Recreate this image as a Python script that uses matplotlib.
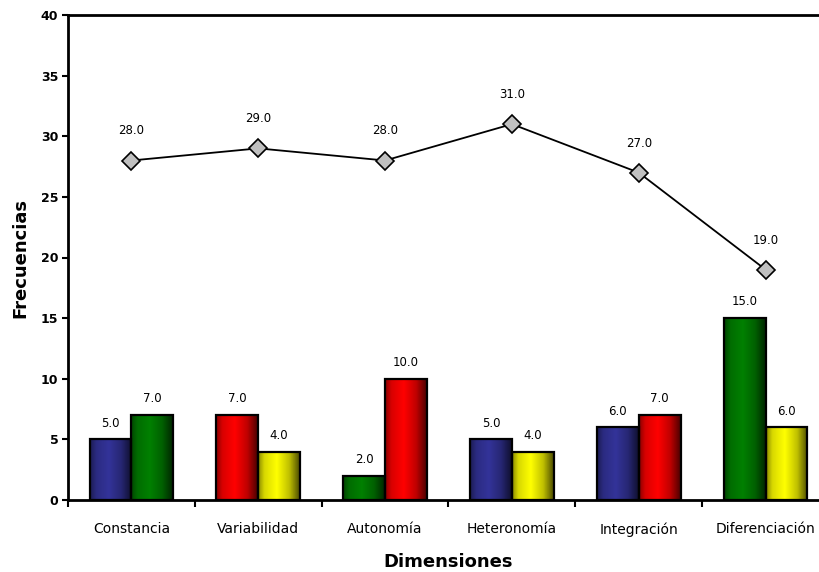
import numpy as np
import matplotlib.pyplot as plt
from matplotlib.colors import to_rgb

# Datos por dimensión
dimensiones = ['Constancia', 'Variabilidad', 'Autonomía', 'Heteronomía', 'Integración', 'Diferenciación']
barra_izq = [5.0, 7.0, 2.0, 5.0, 6.0, 15.0]
barra_der = [7.0, 4.0, 10.0, 4.0, 7.0, 6.0]
color_izq = ['#333399', '#FF0000', '#008000', '#333399', '#333399', '#008000']
color_der = ['#008000', '#FFFF00', '#FF0000', '#FFFF00', '#FF0000', '#FFFF00']
totales = [28.0, 29.0, 28.0, 31.0, 27.0, 19.0]

plt.rcParams['font.family'] = ['DejaVu Sans']

fig = plt.figure(figsize=(8.2, 5.72), dpi=100)
ax = fig.add_axes([68 / 820, 72 / 572, 761 / 820, 485 / 572])

x = np.arange(len(dimensiones))
ancho = 0.33

# sombreado horizontal tipo Excel: oscuro en bordes, claro hacia el centro-izquierda
t = np.linspace(0, 1, 64)
brillo = np.interp(t, [0, 0.15, 0.45, 0.75, 1.0], [0.55, 0.85, 1.0, 0.75, 0.3])


def barra(xc, h, color):
    rect = ax.bar(xc, h, ancho, color='none', edgecolor='black', linewidth=1.6, zorder=3)[0]
    rgb = np.array(to_rgb(color))
    img = (brillo[:, None] * rgb[None, :])[None, :, :]
    im = ax.imshow(img, extent=[xc - ancho / 2, xc + ancho / 2, 0, h], aspect='auto',
                   interpolation='bilinear', zorder=2)
    im.set_clip_path(rect)
    ax.text(xc, h + 0.8, f'{h:.1f}', ha='center', va='bottom', fontsize=8.5, zorder=5)


for i in range(len(dimensiones)):
    barra(x[i] - ancho / 2, barra_izq[i], color_izq[i])
    barra(x[i] + ancho / 2, barra_der[i], color_der[i])

ax.plot(x, totales, color='black', linewidth=1.3, marker='D', markersize=9,
        markerfacecolor='#C0C0C0', markeredgecolor='black', markeredgewidth=1.2, zorder=6)
for xi, v in zip(x, totales):
    ax.text(xi, v + 1.9, f'{v:.1f}', ha='center', va='bottom', fontsize=8.5, zorder=6)

ax.set_xlim(-0.5, len(dimensiones) - 0.5)
ax.set_ylim(0, 40)
ax.set_yticks(range(0, 41, 5))
ax.set_yticklabels([str(v) for v in range(0, 41, 5)], fontsize=9, fontweight='bold')
ax.set_xticks(x)
ax.set_xticklabels(dimensiones, fontsize=10)
ax.set_xticks(np.arange(-0.5, len(dimensiones), 1), minor=True)
ax.tick_params(axis='x', which='major', length=0, pad=16)
ax.tick_params(axis='x', which='minor', length=5, width=1.5, direction='out')
ax.tick_params(axis='y', length=4, width=1.5, direction='out', pad=3)

for lado in ['left', 'bottom', 'top']:
    ax.spines[lado].set_linewidth(2)
ax.spines['right'].set_visible(False)

ax.set_xlabel('Dimensiones', fontsize=13, fontweight='bold', labelpad=12)
ax.set_ylabel('Frecuencias', fontsize=13, fontweight='bold', labelpad=8)

fig.savefig('out.png', dpi=100)
